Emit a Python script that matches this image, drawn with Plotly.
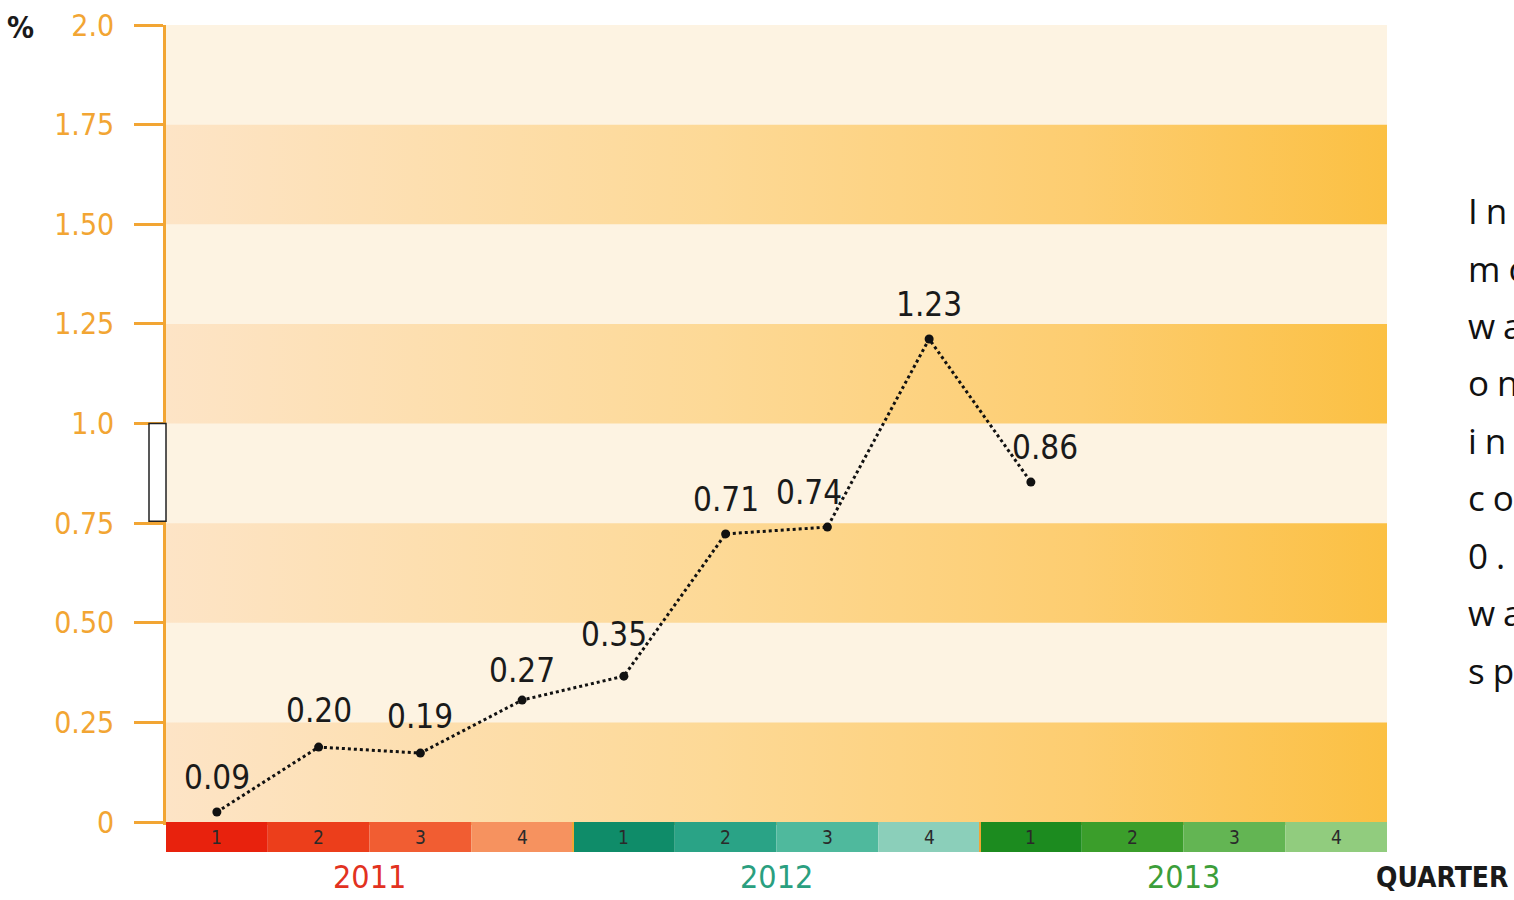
import plotly.graph_objects as go

# ---------------- data ----------------
quarters = [1, 2, 3, 4, 5, 6, 7, 8, 9]                      # quarter index (2011 Q1 = 1)
label_values = ["0.09", "0.20", "0.19", "0.27", "0.35", "0.71", "0.74", "1.23", "0.86"]
plotted_level = [0.025, 0.188, 0.173, 0.306, 0.366, 0.723, 0.740, 1.212, 0.853]  # level as drawn
years = ["2011", "2012", "2013"]
quarter_names = ["1", "2", "3", "4"]
ytick_vals = [0, 0.25, 0.5, 0.75, 1.0, 1.25, 1.5, 1.75, 2.0]
ytick_text = ["0", "0.25", "0.50", "0.75", "1.0", "1.25", "1.50", "1.75", "2.0"]
side_text = ["In the", "most recent", "wave of the", "online", "index, the", "combined", "0.86 %", "was", "spent"]

# ---------------- styles ----------------
ORANGE = "#f2a533"
FONT = "DejaVu Sans Condensed, Liberation Sans Narrow, Roboto, sans-serif"
year_colors = ["#e2321f", "#2a9f80", "#3c9e3a"]
quarter_colors = [
    ["#e8220d", "#ec3e1b", "#f15d32", "#f6925f"],
    ["#0f8c69", "#2aa386", "#4fb99d", "#8bcfba"],
    ["#1c8b1f", "#3b9e2b", "#63b553", "#91cc7e"],
]
label_xshift = [0, 0, 0, 0, -10, 0, -18, 0, 14]
label_yshift = [35, 37, 37, 30, 42, 34, 35, 35, 35]

PLOT_TOP = 25
PLOT_BOT = 822
PH = PLOT_BOT - PLOT_TOP
PL = 166
PW = 1387 - 166

fig = go.Figure()

# darker gradient bands (every other 0.25 band)
for k in range(0, 8, 2):
    y0 = ytick_vals[k]
    y1 = ytick_vals[k + 1]
    fig.add_trace(go.Scatter(
        x=[0.5, 12.5, 12.5, 0.5, 0.5], y=[y0, y0, y1, y1, y0],
        mode="lines", line=dict(width=0), fill="toself",
        fillgradient=dict(type="horizontal",
                          colorscale=[[0, "#fde4c6"], [0.45, "#fdd996"], [0.75, "#fdcd70"], [1, "#fbc043"]]),
        hoverinfo="skip", showlegend=False))

# data line
fig.add_trace(go.Scatter(
    x=quarters, y=plotted_level, mode="lines+markers",
    line=dict(color="#111111", width=3, dash="dot"),
    marker=dict(color="#111111", size=9),
    showlegend=False, hoverinfo="skip"))

shapes = []
annotations = []

# value labels
for q, v, lv, xs, ys in zip(quarters, label_values, plotted_level, label_xshift, label_yshift):
    annotations.append(dict(x=q, y=lv, xref="x", yref="y", text=v, showarrow=False,
                            xshift=xs, yshift=ys,
                            font=dict(family=FONT, size=33, color="#1a1a1a")))

# quarter bar
bar_h = 30 / PH
for yi, yr in enumerate(years):
    for qi, qn in enumerate(quarter_names):
        idx = yi * 4 + qi + 1
        shapes.append(dict(type="rect", xref="x", yref="paper",
                           x0=idx - 0.5, x1=idx + 0.5, y0=-bar_h, y1=0,
                           fillcolor=quarter_colors[yi][qi], line=dict(width=0), layer="above"))
        annotations.append(dict(x=idx, y=-bar_h / 2, xref="x", yref="paper", text=qn,
                                showarrow=False, yanchor="middle",
                                font=dict(family=FONT, size=19, color="#2a2a2a")))
    annotations.append(dict(x=yi * 4 + 2.5, y=(PLOT_BOT - 877) / PH, xref="x", yref="paper", text=yr,
                            showarrow=False, yanchor="middle",
                            font=dict(family=FONT, size=32, color=year_colors[yi])))
# separators between years
for sx in [4.5, 8.5]:
    shapes.append(dict(type="line", xref="x", yref="paper", x0=sx, x1=sx, y0=-bar_h, y1=0,
                       line=dict(color=ORANGE, width=2), layer="above"))

# small empty box beside the axis
shapes.append(dict(type="rect", xref="paper", yref="y", x0=-17 / PW, x1=0, y0=0.755, y1=1.0,
                   fillcolor="white", line=dict(color="#222222", width=1.5), layer="above"))

# % label and QUARTER
annotations.append(dict(x=(20 - PL) / PW, y=(PLOT_BOT - 28) / PH, xref="paper", yref="paper",
                        text="<b>%</b>", showarrow=False, xanchor="center", yanchor="middle",
                        font=dict(family=FONT, size=30, color="#1a1a1a")))
annotations.append(dict(x=(1510 - PL) / PW, y=(PLOT_BOT - 878) / PH, xref="paper", yref="paper",
                        text="<b>QUARTER</b>", showarrow=False, xanchor="right", yanchor="middle",
                        font=dict(family=FONT, size=28, color="#1a1a1a")))

# clipped side text
line_ys = [210, 268, 325, 383, 440, 497, 555, 612, 670]
for t, py in zip(side_text, line_ys):
    annotations.append(dict(x=(1466 - PL) / PW, y=(PLOT_BOT - py) / PH, xref="paper", yref="paper",
                            text='<span style="letter-spacing:8px">' + t + '</span>',
                            showarrow=False, xanchor="left", yanchor="middle",
                            font=dict(family="Open Sans", size=35, color="#111111")))

fig.update_layout(
    width=1514, height=900,
    margin=dict(l=PL, r=1514 - 1387, t=PLOT_TOP, b=900 - PLOT_BOT, autoexpand=False),
    paper_bgcolor="white", plot_bgcolor="#fdf3e2",
    shapes=shapes, annotations=annotations,
    xaxis=dict(range=[0.5, 12.5], showgrid=False, zeroline=False, showticklabels=False,
               showline=True, linecolor=ORANGE, linewidth=2.5, ticks="", automargin=False),
    yaxis=dict(range=[0, 2.0], tickvals=ytick_vals, ticktext=ytick_text, automargin=False,
               showgrid=False, zeroline=False, showline=True, linecolor=ORANGE, linewidth=2.5,
               ticks="outside", ticklen=29, tickwidth=2.5, tickcolor=ORANGE,
               ticklabelstandoff=14,
               tickfont=dict(family=FONT, size=30, color=ORANGE)),
)

fig.write_html("out.html")
